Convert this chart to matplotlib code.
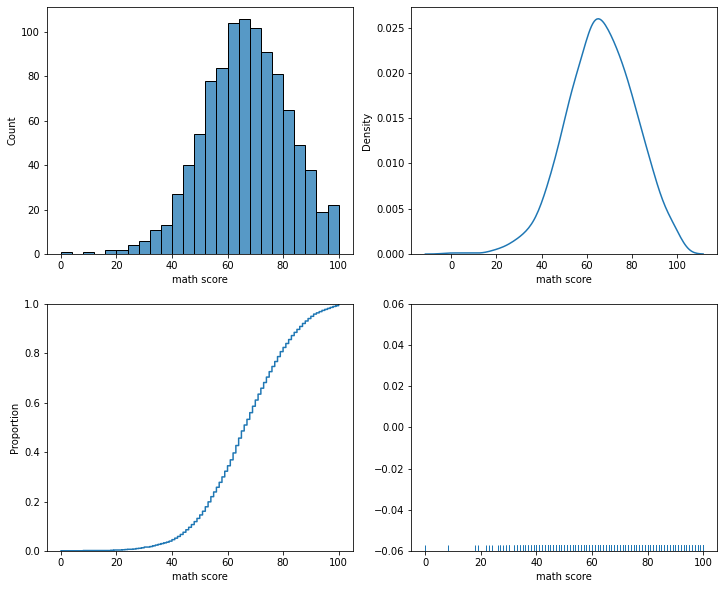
import numpy as np
import matplotlib
matplotlib.use("Agg")
from matplotlib import pyplot as plt
import seaborn as sns

# distinct math scores and how many students got each
scores = [0, 8, 18, 19, 22, 23, 24, 26, 27, 28, 29, 30,
          32, 33, 34, 35, 36, 37, 38, 39,
          40, 41, 42, 43, 44, 45, 46, 47, 48, 49, 50, 51,
          52, 53, 54, 55, 56, 57, 58, 59, 60, 61, 62, 63,
          64, 65, 66, 67, 68, 69, 70, 71, 72, 73, 74, 75,
          76, 77, 78, 79, 80, 81, 82, 83, 84, 85, 86, 87,
          88, 89, 90, 91, 92, 93, 94, 95, 96, 97, 98, 99, 100]
counts = [1, 1, 1, 1, 1, 1, 1, 1, 2, 1, 2, 3,
          2, 3, 3, 3, 3, 3, 3, 4,
          6, 6, 7, 8, 9, 10, 10, 11, 12, 13, 14, 15,
          18, 20, 21, 19, 19, 20, 22, 23, 22, 24, 28, 30,
          30, 29, 24, 23, 27, 26, 25, 24, 24, 23, 22, 22,
          21, 20, 20, 20, 17, 16, 16, 16, 13, 12, 12, 12,
          10, 10, 9, 9, 5, 5, 5, 4, 4, 4, 4, 3, 7]

math_score = np.repeat(scores, counts)

fig, axes = plt.subplots(2, 2, figsize=(723 / 72, 589 / 72), dpi=72)
fig.subplots_adjust(left=0.065, right=0.9917, top=0.9881, bottom=0.0645,
                    wspace=0.193, hspace=0.202)

sns.histplot(x=math_score, binwidth=4, binrange=(0, 100), ax=axes[0, 0])
sns.kdeplot(x=math_score, ax=axes[0, 1])
sns.ecdfplot(x=math_score, ax=axes[1, 0])
sns.rugplot(x=math_score, ax=axes[1, 1])

for ax in axes.flat:
    ax.set_xlabel("math score")

plt.savefig("out.png", dpi=72)
